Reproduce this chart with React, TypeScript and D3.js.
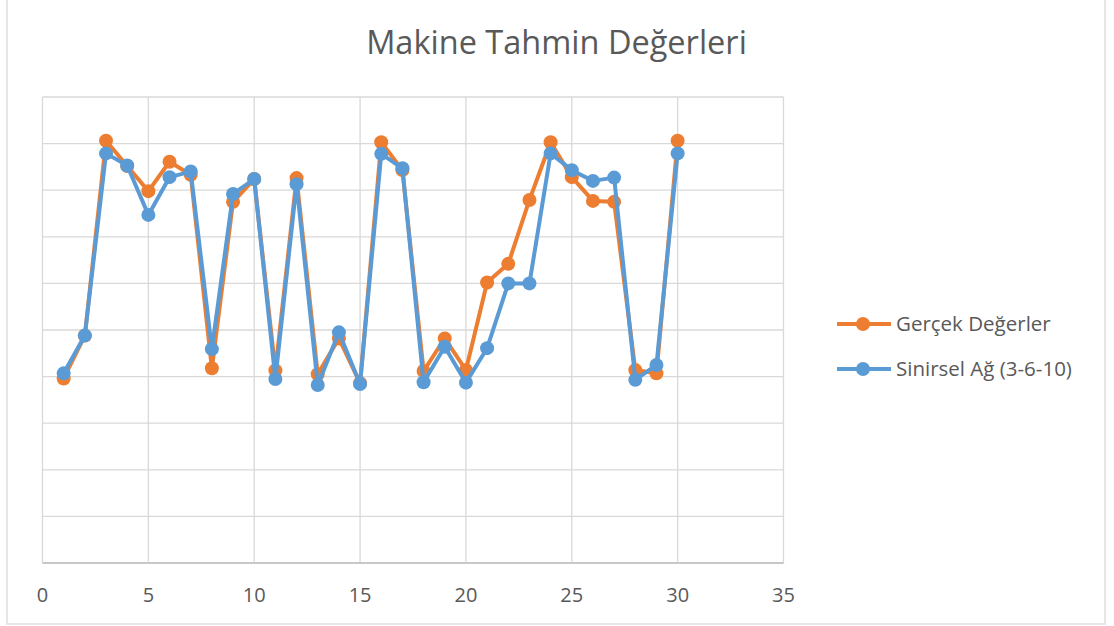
import React from "react";
import * as d3 from "d3";

const xValues = [1, 2, 3, 4, 5, 6, 7, 8, 9, 10, 11, 12, 13, 14, 15, 16, 17, 18, 19, 20, 21, 22, 23, 24, 25, 26, 27, 28, 29, 30];
const gercekDegerler = [3.96, 4.88, 9.06, 8.52, 7.98, 8.61, 8.33, 4.18, 7.75, 8.24, 4.13, 8.26, 4.05, 4.82, 3.86, 9.03, 8.43, 4.12, 4.82, 4.14, 6.02, 6.42, 7.79, 9.03, 8.28, 7.77, 7.75, 4.14, 4.07, 9.06];
const sinirselAg = [4.07, 4.88, 8.79, 8.53, 7.47, 8.28, 8.40, 4.59, 7.92, 8.24, 3.95, 8.13, 3.82, 4.95, 3.84, 8.78, 8.47, 3.88, 4.64, 3.87, 4.61, 6.0, 6.0, 8.79, 8.43, 8.20, 8.27, 3.93, 4.25, 8.79];
const xTicks = [0, 5, 10, 15, 20, 25, 30, 35];
const yTicks = [0, 1, 2, 3, 4, 5, 6, 7, 8, 9, 10];
const seriesNames = ["Gerçek Değerler", "Sinirsel Ağ (3-6-10)"];
const title = "Makine Tahmin Değerleri";

const W = 1114;
const H = 626;
const plot = { left: 42.5, right: 783.5, top: 97, bottom: 563 };
const colors = ["#ED7D31", "#5B9BD5"];
const font = "'Open Sans', sans-serif";
const textColor = "#595959";
const gridColor = "#D9D9D9";

export default function App() {
  const x = d3.scaleLinear().domain([0, 35]).range([plot.left, plot.right]);
  const y = d3.scaleLinear().domain([0, 10]).range([plot.bottom, plot.top]);
  const line = d3
    .line<[number, number]>()
    .x((d) => x(d[0]))
    .y((d) => y(d[1]));

  const series = [gercekDegerler, sinirselAg].map((vals) =>
    xValues.map((xv, i) => [xv, vals[i]] as [number, number])
  );

  return (
    <div style={{ position: "fixed", left: 0, top: 0 }}>
      <svg width={W} height={H} style={{ display: "block", background: "#fff" }}>
        <rect x={7} y={-2} width={1098} height={626} fill="#fff" stroke={gridColor} strokeWidth={1.3} />
        <text x={556.5} y={54} textAnchor="middle" fontFamily={font} fontSize={32.5} fill={textColor}>
          {title}
        </text>
        {yTicks.map((t) => (
          <line key={"gy" + t} x1={plot.left} x2={plot.right} y1={y(t)} y2={y(t)} stroke={gridColor} strokeWidth={1.3} />
        ))}
        {xTicks.map((t) => (
          <line key={"gx" + t} x1={x(t)} x2={x(t)} y1={plot.top} y2={plot.bottom} stroke={gridColor} strokeWidth={1.3} />
        ))}
        <line x1={plot.left} x2={plot.right} y1={plot.bottom} y2={plot.bottom} stroke="#BFBFBF" strokeWidth={1.3} />
        {xTicks.map((t) => (
          <text key={"xl" + t} x={x(t)} y={601.5} textAnchor="middle" fontFamily={font} fontSize={20} fill={textColor}>
            {t}
          </text>
        ))}
        {series.map((pts, si) => (
          <g key={"s" + si}>
            <path d={line(pts) || ""} fill="none" stroke={colors[si]} strokeWidth={4} strokeLinejoin="round" />
            {pts.map((p, i) => (
              <circle key={i} cx={x(p[0])} cy={y(p[1])} r={7} fill={colors[si]} />
            ))}
          </g>
        ))}
        {seriesNames.map((name, i) => {
          const ly = 324 + i * 45;
          return (
            <g key={"lg" + i}>
              <line x1={837} x2={891} y1={ly} y2={ly} stroke={colors[i]} strokeWidth={4} />
              <circle cx={863} cy={ly} r={7} fill={colors[i]} />
              <text x={896} y={ly + 7} fontFamily={font} fontSize={20.5} fill={textColor}>
                {name}
              </text>
            </g>
          );
        })}
      </svg>
    </div>
  );
}
